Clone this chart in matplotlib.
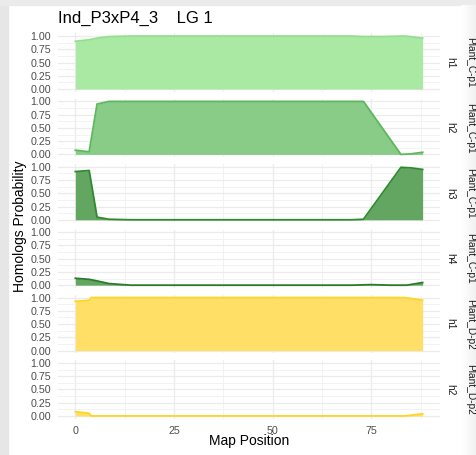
import numpy as np
import matplotlib
matplotlib.use("Agg")
import matplotlib.pyplot as plt
from matplotlib.patches import Rectangle

plt.rcParams['font.family'] = ['Liberation Sans', 'DejaVu Sans']

# homolog probabilities along the map, one panel per homolog
hom_labels = ['h1', 'h2', 'h3', 'h4', 'h1', 'h2']
parent_labels = ['Plant_C-p1', 'Plant_C-p1', 'Plant_C-p1', 'Plant_C-p1', 'Plant_D-p2', 'Plant_D-p2']

x_c1 = [0, 3.5, 5.5, 8.5, 14, 20, 30, 40, 50, 60, 70, 73, 78, 83.5, 88]
y_c1 = [0.90, 0.93, 0.96, 0.99, 1.0, 1.0, 1.0, 1.0, 1.0, 1.0, 1.0, 0.99, 0.99, 1.0, 0.96]

x_c2 = [0, 3.5, 5.5, 8.5, 14, 20, 30, 40, 50, 60, 70, 73, 82.5, 85, 88]
y_c2 = [0.08, 0.05, 0.95, 1.0, 1.0, 1.0, 1.0, 1.0, 1.0, 1.0, 1.0, 1.0, 0.0, 0.01, 0.04]

x_c3 = [0, 3.5, 5.5, 8.5, 14, 20, 30, 40, 50, 60, 70, 73, 82.5, 85, 88]
y_c3 = [0.91, 0.93, 0.05, 0.01, 0.0, 0.0, 0.0, 0.0, 0.0, 0.0, 0.0, 0.01, 0.99, 0.98, 0.95]

x_c4 = [0, 3.5, 5.5, 8.5, 14, 20, 30, 40, 50, 60, 70, 75, 80, 84, 88]
y_c4 = [0.13, 0.11, 0.08, 0.03, 0.0, 0.0, 0.0, 0.0, 0.0, 0.0, 0.0, 0.01, 0.0, 0.0, 0.05]

x_d1 = [0, 3.5, 4.0, 10, 20, 30, 40, 50, 60, 70, 80, 83.5, 88]
y_d1 = [0.93, 0.95, 1.0, 1.0, 1.0, 1.0, 1.0, 1.0, 1.0, 1.0, 1.0, 1.0, 0.95]

x_d2 = [0, 3.5, 4.0, 10, 20, 30, 40, 50, 60, 70, 80, 83.5, 88]
y_d2 = [0.08, 0.05, 0.0, 0.0, 0.0, 0.0, 0.0, 0.0, 0.0, 0.0, 0.0, 0.0, 0.04]

xs = [x_c1, x_c2, x_c3, x_c4, x_d1, x_d2]
ys = [y_c1, y_c2, y_c3, y_c4, y_d1, y_d2]

fill_cols = ['#a9e9a3', '#88cc88', '#62a662', '#62a662', '#ffdf66', '#ffdf66']
line_cols = ['#94df8e', '#5cb85c', '#2f8a2f', '#2a7a2a', '#ffd426', '#ffd426']

fig = plt.figure(figsize=(4.77, 4.55), dpi=100)
fig.patch.set_facecolor('white')

# grey frame around the plot area
fig.patches.append(Rectangle((0, 0), 8 / 477, 1, transform=fig.transFigure,
                             color='#e6e6e6', zorder=-2))
fig.patches.append(Rectangle((0, 1 - 5 / 455), 1, 5 / 455, transform=fig.transFigure,
                             color='#ebebeb', zorder=-2))
edge = fig.add_axes([461 / 477, 0, 16 / 477, 1 - 5 / 455], zorder=-1)
grad = np.linspace(1.0, 0.94, 64).reshape(1, -1)
edge.imshow(grad, aspect='auto', cmap='gray', vmin=0, vmax=1, extent=[0, 1, 0, 1])
edge.axis('off')

gs = fig.add_gridspec(6, 1, left=58 / 477, right=440 / 477,
                      top=1 - 33.4 / 455, bottom=1 - 418.6 / 455, hspace=0.122)

for i in range(6):
    ax = fig.add_subplot(gs[i, 0])
    ax.fill_between(xs[i], ys[i], 0, color=fill_cols[i], lw=0, zorder=2)
    ax.plot(xs[i], ys[i], color=line_cols[i], lw=1.3, zorder=3)
    ax.set_xlim(-4.4, 92.4)
    ax.set_ylim(-0.05, 1.05)
    ax.set_xticks([0, 25, 50, 75])
    ax.set_xticks([12.5, 37.5, 62.5, 87.5], minor=True)
    ax.set_yticks([0, 0.25, 0.5, 0.75, 1.0])
    ax.set_yticks([0.125, 0.375, 0.625, 0.875], minor=True)
    ax.set_yticklabels(['0.00', '0.25', '0.50', '0.75', '1.00'])
    ax.grid(which='major', color='#ebebeb', lw=0.9, zorder=0)
    ax.grid(which='minor', color='#f0f0f0', lw=0.6, zorder=0)
    ax.set_axisbelow(True)
    for s in ax.spines.values():
        s.set_visible(False)
    ax.tick_params(which='both', length=0, labelsize=7.7, labelcolor='#4d4d4d', pad=5)
    if i < 5:
        ax.tick_params(axis='x', labelbottom=False)

    pos = ax.get_position()
    yc = (pos.y0 + pos.y1) / 2
    fig.text(450 / 477, yc, hom_labels[i], rotation=-90, ha='center', va='center',
             fontsize=7.3, color='#1a1a1a', zorder=5)
    fig.text(470 / 477, yc, parent_labels[i], rotation=-90, ha='center', va='center',
             fontsize=7.3, color='#1a1a1a', zorder=5)

fig.text(58 / 477, 1 - 18 / 455, 'Ind_P3xP4_3    LG 1', ha='left', va='center',
         fontsize=12, color='black')
fig.text(249 / 477, 1 - 441 / 455, 'Map Position', ha='center', va='center',
         fontsize=10, color='black')
fig.text(20 / 477, 1 - 226 / 455, 'Homologs Probability', ha='center', va='center',
         rotation=90, fontsize=10, color='black')

fig.savefig('out.png', dpi=100)
